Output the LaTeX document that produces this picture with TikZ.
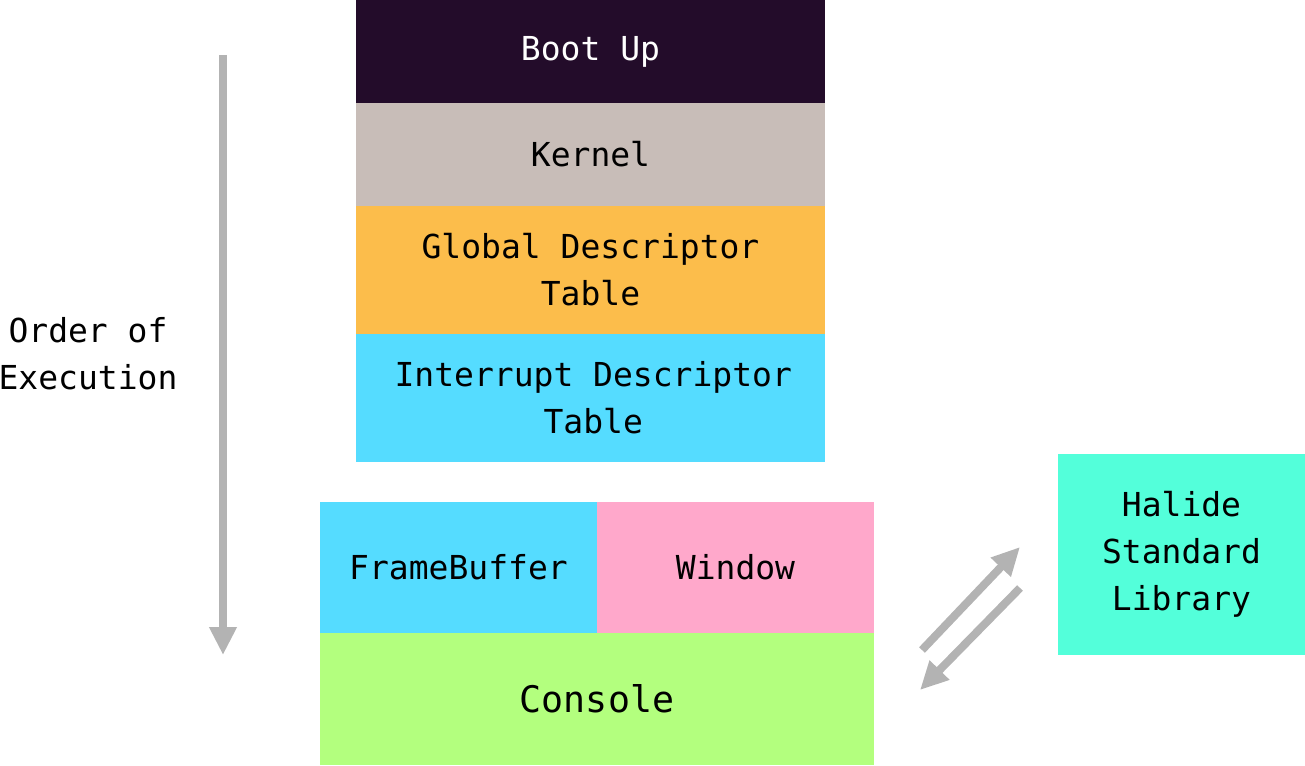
\documentclass[tikz,border=0pt]{standalone}
\usepackage{xcolor}
\usepackage{fontspec}
\setmainfont{DejaVu Sans Mono}
\usepackage{tikz}
\usetikzlibrary{arrows.meta}

\definecolor{bootcol}{HTML}{230C2A}
\definecolor{kernelcol}{HTML}{C8BDB8}
\definecolor{gdtcol}{HTML}{FCBD4B}
\definecolor{idtcol}{HTML}{55DCFF}
\definecolor{windowcol}{HTML}{FFA8CB}
\definecolor{consolecol}{HTML}{B3FF7E}
\definecolor{halidecol}{HTML}{53FFDA}
\definecolor{arrowcol}{HTML}{B3B3B3}

\tikzset{
  layer/.style={rectangle, inner sep=0pt, align=center, font=\fontsize{16.5}{23.5}\selectfont},
  flow/.style={draw=arrowcol, line width=4pt, -{Triangle[width=13pt,length=14pt]}},
}

\begin{document}
\begin{tikzpicture}[x=0.5pt, y=-0.5pt]
\useasboundingbox (0,0) rectangle (1305,765);
\node at (590.5,51.5) [layer, fill=bootcol, text=white, minimum width=234.5pt, minimum height=51.5pt] (boot) {Boot Up};
\node at (590.5,154.5) [layer, fill=kernelcol, minimum width=234.5pt, minimum height=51.5pt] (kernel) {Kernel};
\node at (590.5,270) [layer, fill=gdtcol, minimum width=234.5pt, minimum height=64pt] (gdt) {Global Descriptor\\Table};
\node at (590.5,398) [layer, fill=idtcol, minimum width=234.5pt, minimum height=64pt] (idt) {\,Interrupt Descriptor\\\,Table};
\node at (458.5,567.5) [layer, fill=idtcol, minimum width=138.5pt, minimum height=65.5pt] (framebuffer) {FrameBuffer};
\node at (735.5,567.5) [layer, fill=windowcol, minimum width=138.5pt, minimum height=65.5pt] (window) {Window};
\node at (597,699) [layer, fill=consolecol, minimum width=277pt, minimum height=66pt, font=\fontsize{18.3}{24}\selectfont] (console) {Console};
\node at (1181.5,554.5) [layer, fill=halidecol, minimum width=123.5pt, minimum height=100.5pt] (halide) {Halide\\Standard\\Library};
\node at (88,354) [layer] (order) {Order of\\Execution};
% arrows
\coordinate (ordertop) at (223,55);
\coordinate (orderend) at (223,655);
\draw[flow] (ordertop) -- (orderend);
\coordinate (callstart) at (922,650);
\coordinate (callend) at (1020,547);
\coordinate (retstart) at (1020,588);
\coordinate (retend) at (920,690);
\draw[flow] (callstart) -- (callend);
\draw[flow] (retstart) -- (retend);
\end{tikzpicture}
\end{document}
